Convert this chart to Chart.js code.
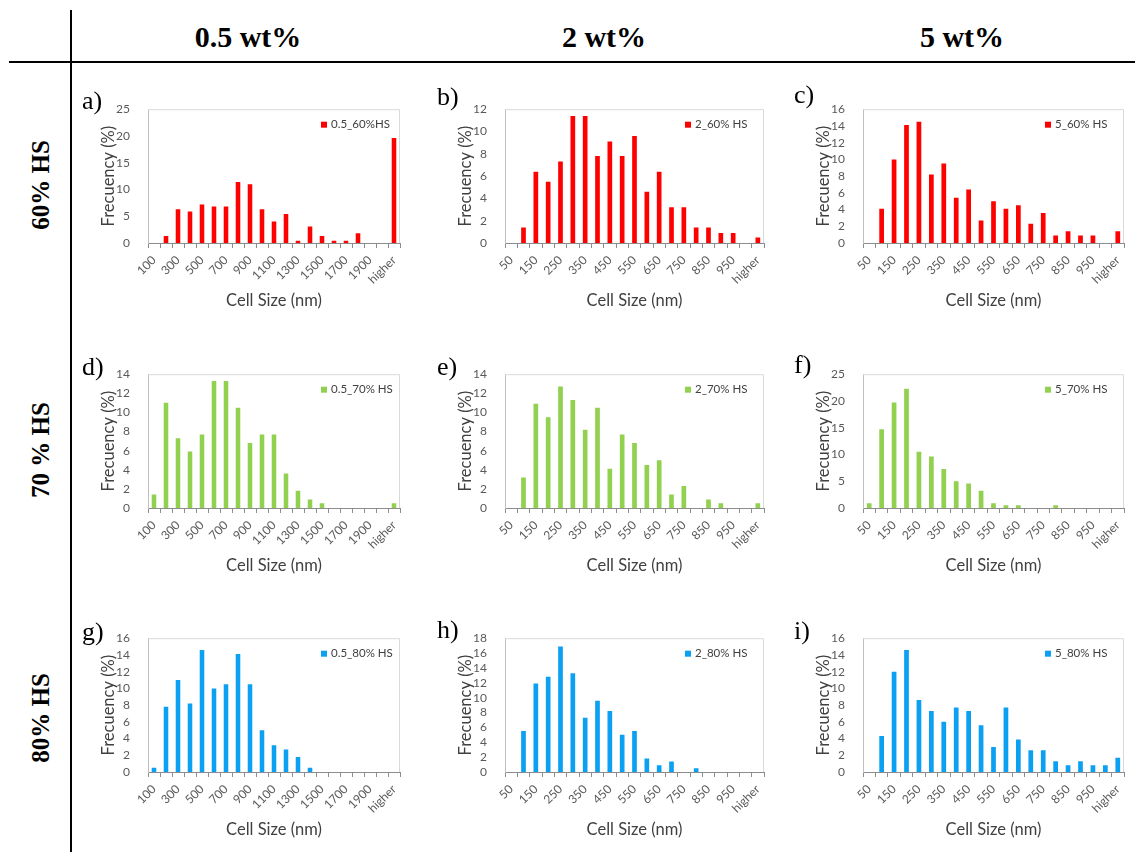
<!DOCTYPE html>
<html>
<head>
<meta charset="utf-8">
<script src="https://cdn.jsdelivr.net/npm/chart.js@4.4.1/dist/chart.umd.min.js"></script>
<style>
  body { margin: 0; background: #fff; width: 1135px; height: 852px; position: relative; overflow: hidden; font-family: "Liberation Serif", "Times New Roman", serif; }
  .hline { position: absolute; left: 9px; top: 61px; width: 1126px; height: 2px; background: #000; }
  .vline { position: absolute; left: 70px; top: 10px; width: 2px; height: 842px; background: #000; }
  .col { position: absolute; top: 20px; font-weight: bold; font-size: 30px; line-height: 34px; transform: translateX(-50%); white-space: nowrap; }
  .row { position: absolute; font-weight: bold; font-size: 25px; line-height: 30px; white-space: nowrap; transform: translate(-50%, -50%) rotate(-90deg); }
  .tag { position: absolute; font-size: 26px; line-height: 26px; white-space: nowrap; }
  canvas { position: absolute; }
</style>
</head>
<body>
<div class="hline"></div>
<div class="vline"></div>
<div class="col" style="left:248px">0.5 wt%</div>
<div class="col" style="left:604px">2 wt%</div>
<div class="col" style="left:962px">5 wt%</div>
<div class="row" style="left:41px;top:185px">60% HS</div>
<div class="row" style="left:41px;top:450px">70 % HS</div>
<div class="row" style="left:41px;top:718px">80% HS</div>

<script>
// Bin labels (nm)
const binsFrom100 = ['100','200','300','400','500','600','700','800','900','1000','1100','1200','1300','1400','1500','1600','1700','1800','1900','2000','higher'];
const binsFrom50  = ['50','100','150','200','250','300','350','400','450','500','550','600','650','700','750','800','850','900','950','1000','higher'];

// Cell size frequency (%) per sample: <wt%>_<HS%>
const freq_05_60 = [0, 1.3, 6.3, 5.9, 7.2, 6.8, 6.8, 11.4, 11.0, 6.3, 4.0, 5.4, 0.4, 3.1, 1.3, 0.4, 0.4, 1.8, 0, 0, 19.6];
const freq_2_60  = [0, 1.4, 6.4, 5.5, 7.3, 11.4, 11.4, 7.8, 9.1, 7.8, 9.6, 4.6, 6.4, 3.2, 3.2, 1.4, 1.4, 0.9, 0.9, 0, 0.5];
const freq_5_60  = [0, 4.1, 10.0, 14.1, 14.5, 8.2, 9.5, 5.4, 6.4, 2.7, 5.0, 4.1, 4.5, 2.3, 3.6, 0.9, 1.4, 0.9, 0.9, 0, 1.4];
const freq_05_70 = [1.4, 11.0, 7.3, 5.9, 7.7, 13.3, 13.3, 10.5, 6.8, 7.7, 7.7, 3.6, 1.8, 0.9, 0.5, 0, 0, 0, 0, 0, 0.5];
const freq_2_70  = [0, 3.2, 10.9, 9.5, 12.7, 11.3, 8.2, 10.5, 4.1, 7.7, 6.8, 4.5, 5.0, 1.4, 2.3, 0, 0.9, 0.5, 0, 0, 0.5];
const freq_5_70  = [0.9, 14.7, 19.7, 22.3, 10.5, 9.6, 7.3, 5.0, 4.6, 3.2, 0.9, 0.5, 0.5, 0, 0, 0.5, 0, 0, 0, 0, 0];
const freq_05_80 = [0.5, 7.8, 11.0, 8.2, 14.6, 10.0, 10.5, 14.1, 10.5, 5.0, 3.2, 2.7, 1.8, 0.5, 0, 0, 0, 0, 0, 0, 0];
const freq_2_80  = [0, 5.5, 11.9, 12.8, 16.9, 13.3, 7.3, 9.6, 8.2, 5.0, 5.5, 1.8, 0.9, 1.4, 0, 0.5, 0, 0, 0, 0, 0];
const freq_5_80  = [0, 4.3, 12.0, 14.6, 8.6, 7.3, 6.0, 7.7, 7.3, 5.6, 3.0, 7.7, 3.9, 2.6, 2.6, 1.3, 0.8, 1.3, 0.8, 0.8, 1.7];

// Series names
const seriesNames = ['0.5_60%HS', '2_60% HS', '5_60% HS', '0.5_70% HS', '2_70% HS', '5_70% HS', '0.5_80% HS', '2_80% HS', '5_80% HS'];
const panelTags = ['a)', 'b)', 'c)', 'd)', 'e)', 'f)', 'g)', 'h)', 'i)'];
const yMaxima = [25, 12, 16, 14, 14, 25, 16, 18, 16];
const ySteps  = [5, 2, 2, 2, 2, 5, 2, 2, 2];

const RED = '#ff0000', GREEN = '#92d050', BLUE = '#0ca0f2';
const TICK = '#595959', TITLE = '#404040';
const UI_FONT = 'Lato, "Open Sans", sans-serif';

// Plot-area boxes [left, top, right, bottom] of the 3x3 grid
const colX = [[148, 400], [505, 764], [863, 1124]];
const rowY = [[104, 243], [369, 508], [633, 772]];
const tagPos = [[82, 88], [437, 84], [794, 82], [82, 354], [437, 354], [794, 352], [82, 619], [437, 617], [794, 618]];

const panels = [
  { bins: binsFrom100, values: freq_05_60, color: RED },
  { bins: binsFrom50,  values: freq_2_60,  color: RED },
  { bins: binsFrom50,  values: freq_5_60,  color: RED },
  { bins: binsFrom100, values: freq_05_70, color: GREEN },
  { bins: binsFrom50,  values: freq_2_70,  color: GREEN },
  { bins: binsFrom50,  values: freq_5_70,  color: GREEN },
  { bins: binsFrom100, values: freq_05_80, color: BLUE },
  { bins: binsFrom50,  values: freq_2_80,  color: BLUE },
  { bins: binsFrom50,  values: freq_5_80,  color: BLUE }
];

// Light frame on top/right of the plot area plus an in-plot legend entry
const frameLegend = {
  id: 'frameLegend',
  beforeDatasetsDraw(chart) {
    const { ctx, chartArea: a } = chart;
    ctx.save();
    ctx.strokeStyle = '#d9d9d9';
    ctx.lineWidth = 1;
    ctx.beginPath();
    ctx.moveTo(a.left, a.top + 0.5);
    ctx.lineTo(a.right - 0.5, a.top + 0.5);
    ctx.lineTo(a.right - 0.5, a.bottom);
    ctx.stroke();
    ctx.restore();
  },
  afterDatasetsDraw(chart) {
    const { ctx, chartArea: a } = chart;
    const ds = chart.data.datasets[0];
    const x = a.right - 69, y = a.top + 15.5;
    ctx.save();
    ctx.fillStyle = ds.backgroundColor;
    ctx.fillRect(x - 10, y - 3, 6, 6);
    ctx.fillStyle = TITLE;
    ctx.font = '11.5px ' + UI_FONT;
    ctx.textBaseline = 'middle';
    ctx.textAlign = 'left';
    ctx.fillText(ds.label, x, y);
    ctx.restore();
  }
};

const PAD_L = 52, PAD_T = 12, PAD_R = 12, PAD_B = 72;

panels.forEach((p, k) => {
  const [left, right] = colX[k % 3];
  const [top, bottom] = rowY[Math.floor(k / 3)];
  const w = right - left + PAD_L + PAD_R;
  const h = bottom - top + PAD_T + PAD_B;

  const cv = document.createElement('canvas');
  cv.width = w; cv.height = h;
  cv.style.left = (left - PAD_L) + 'px';
  cv.style.top = (top - PAD_T) + 'px';
  cv.style.width = w + 'px';
  cv.style.height = h + 'px';
  document.body.appendChild(cv);

  const tag = document.createElement('div');
  tag.className = 'tag';
  tag.textContent = panelTags[k];
  tag.style.left = tagPos[k][0] + 'px';
  tag.style.top = tagPos[k][1] + 'px';
  document.body.appendChild(tag);

  new Chart(cv, {
    type: 'bar',
    data: {
      labels: p.bins,
      datasets: [{
        label: seriesNames[k],
        data: p.values,
        backgroundColor: p.color,
        categoryPercentage: 1,
        barPercentage: 0.38
      }]
    },
    options: {
      responsive: false,
      animation: false,
      devicePixelRatio: 1,
      layout: { padding: { top: PAD_T, right: PAD_R, left: 0, bottom: 0 } },
      plugins: { legend: { display: false }, tooltip: { enabled: false } },
      scales: {
        x: {
          grid: { display: true, drawOnChartArea: false, drawTicks: true, tickLength: 5, color: '#8c8c8c', offset: true },
          border: { display: true, color: '#8c8c8c' },
          ticks: {
            autoSkip: false, minRotation: 45, maxRotation: 45, padding: 5,
            color: TICK, font: { family: UI_FONT, size: 12 },
            callback: (v, i) => (i % 2 === 0 ? p.bins[i] : '')
          },
          title: { display: true, text: 'Cell Size (nm)', color: TITLE, font: { family: UI_FONT, size: 16.5 }, padding: { top: 0, bottom: 4 } },
          afterFit: (s) => { s.height = PAD_B; }
        },
        y: {
          min: 0, max: yMaxima[k],
          grid: { display: false },
          border: { display: true, color: '#bfbfbf' },
          ticks: { stepSize: ySteps[k], autoSkip: false, padding: 10, color: TICK, font: { family: UI_FONT, size: 12 } },
          title: { display: true, text: 'Frecuency (%)', color: TITLE, font: { family: UI_FONT, size: 16.5 }, padding: { top: 3, bottom: 0 } },
          afterFit: (s) => { s.width = PAD_L; }
        }
      }
    },
    plugins: [frameLegend]
  });
});
</script>
</body>
</html>
